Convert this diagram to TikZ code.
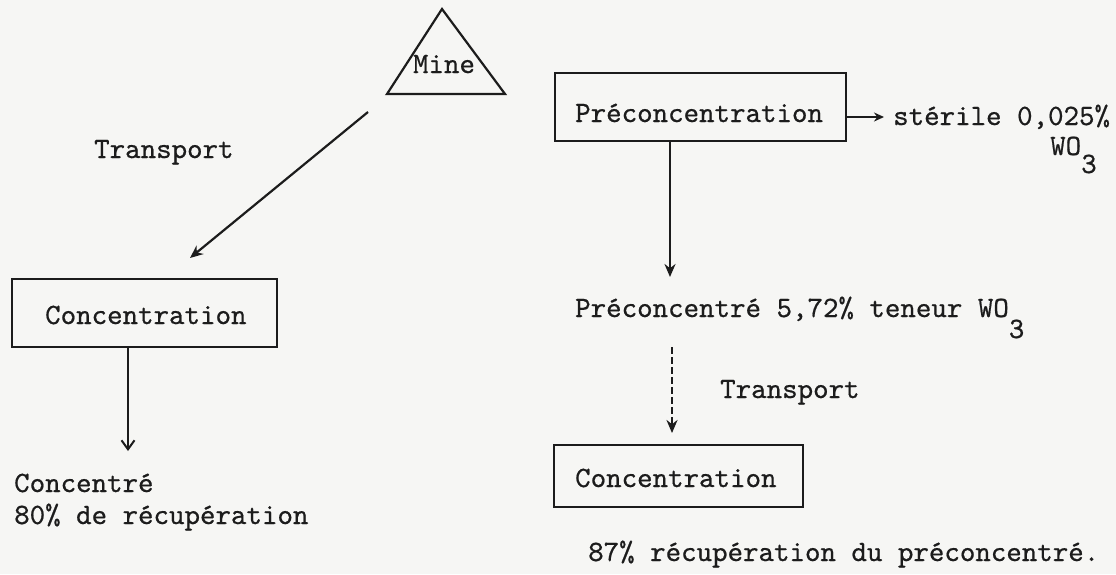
\documentclass[tikz,border=0pt]{standalone}
\usepackage{fontspec}
\newfontfamily\tw[FakeBold=0.6]{lmmono10-regular.otf}
\usetikzlibrary{arrows.meta}
\definecolor{ink}{HTML}{1C1C1C}
\definecolor{paper}{HTML}{F6F6F4}
\begin{document}
\begin{tikzpicture}[x=1pt,y=-1pt,
  ink/.style={draw=ink,line width=2.2pt},
  boxnode/.style={ink,rectangle,inner sep=0pt},
  txt/.style={inner sep=0pt,text=ink,font=\tw\fontsize{29.5}{34}\selectfont,anchor=base west},
  arr/.style={ink,-{Stealth[length=13pt,width=11pt]}},
  vee/.style={ink,-{Straight Barb[length=9pt,width=13pt,line width=2pt]}},
  dashedarr/.style={arr,dash pattern=on 7pt off 3pt}
]
\fill[paper] (0,0) rectangle (1116,574);
\useasboundingbox (0,0) rectangle (1116,574);

% Mine triangle
\draw[ink,line join=miter] (442,9) -- (387,94) -- (505,94) -- cycle;
\node[txt,anchor=base] (mine) at (444,73) {Mine};
\coordinate (mineout) at (368,112);

% boxes
\node[boxnode,minimum width=291pt,minimum height=68pt] (pre) at (700.5,107) {};
\node[txt] (pretxt) at (575,122) {Préconcentration};

\node[boxnode,minimum width=265pt,minimum height=68pt] (conL) at (144.5,313) {};
\node[txt] (conLtxt) at (45,324) {Concentration};

\node[boxnode,minimum width=249pt,minimum height=62pt] (conR) at (678.5,476) {};
\node[txt] (conRtxt) at (575,487) {Concentration};

% texts
\node[txt] (transL) at (94,158) {Transport};
\node[txt] (sterile) at (893,125) {stérile 0,025\%};
\node[txt] (wo) at (1050,155) {WO\raisebox{-18pt}{3}};
\node[txt] (preconc) at (575,317) {Préconcentré 5,72\% teneur WO\raisebox{-21pt}{3}};
\node[txt] (transR) at (720,398) {Transport};
\node[txt] (concL1) at (14,492) {Concentré};
\node[txt] (concL2) at (14,524) {80\% de récupération};
\node[txt] (recR) at (588,561) {87\% récupération du préconcentré.};

% connector end points
\coordinate (conLin) at (190,258);
\coordinate (preOut) at (670,141);
\coordinate (preEnd) at (670,277);
\coordinate (sterOut) at (847,117);
\coordinate (sterEnd) at (884,117);
\coordinate (conLOut) at (128,347);
\coordinate (conLEnd) at (128,451);
\coordinate (dashStart) at (672,347);
\coordinate (dashEnd) at (672,433);

% connectors
\draw[arr] (mineout) -- (conLin);
\draw[arr] (preOut) -- (preEnd);
\draw[arr,-{Stealth[length=10pt,width=9pt]}] (sterOut) -- (sterEnd);
\draw[vee] (conLOut) -- (conLEnd);
\draw[dashedarr] (dashStart) -- (dashEnd);
\end{tikzpicture}
\end{document}
